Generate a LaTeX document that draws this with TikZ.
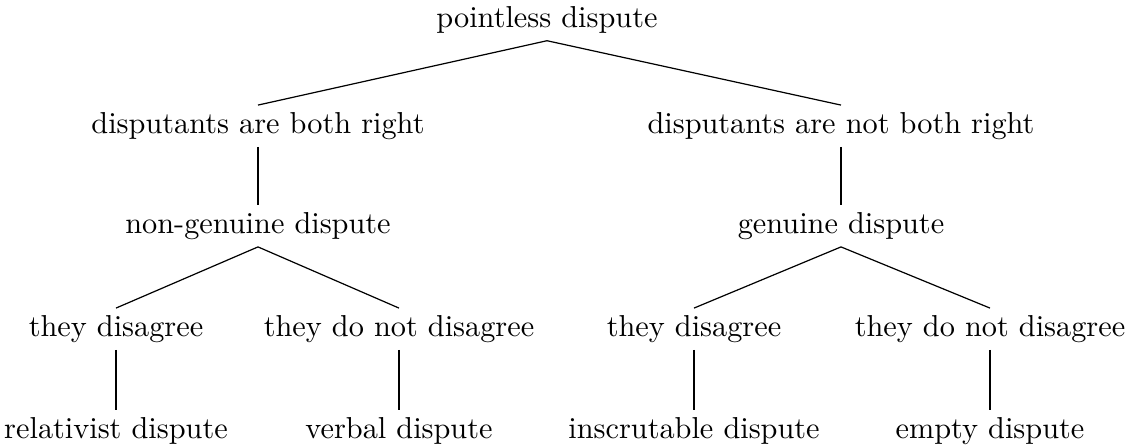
\documentclass[tikz,border=0pt]{standalone}
\usepackage{tikz}
\usetikzlibrary{positioning}

\begin{document}
\begin{tikzpicture}[
    x=0.33pt, y=-0.33pt,
    every node/.style={inner sep=2.2pt}
]
\useasboundingbox (0,0) rectangle (1129,446);

% Root
\node (root) at (547,20) {pointless dispute};

% Both right or not
\node (both) at (258,126) {disputants are both right};
\node (notboth) at (841,126) {disputants are not both right};

% Genuine or not
\node (nongen) at (258,226) {non-genuine dispute};
\node (gen) at (841,226) {genuine dispute};

% Disagreement
\node (nga) at (116,329) {they disagree};
\node (ngb) at (399,329) {they do not disagree};
\node (ga) at (694,329) {they disagree};
\node (gb) at (990,329) {they do not disagree};

% Kinds of dispute
\node (relat) at (116,431) {relativist dispute};
\node (verbal) at (399,431) {verbal dispute};
\node (inscr) at (694,431) {inscrutable dispute};
\node (empty) at (990,431) {empty dispute};

% lines
\draw (root.south) -- (both.north);
\draw (root.south) -- (notboth.north);
\draw (both.south) -- (nongen.north);
\draw (notboth.south) -- (gen.north);
\draw (nongen.south) -- (nga.north);
\draw (nongen.south) -- (ngb.north);
\draw (gen.south) -- (ga.north);
\draw (gen.south) -- (gb.north);
\draw (nga.south) -- (relat.north);
\draw (ngb.south) -- (verbal.north);
\draw (ga.south) -- (inscr.north);
\draw (gb.south) -- (empty.north);

\end{tikzpicture}
\end{document}
